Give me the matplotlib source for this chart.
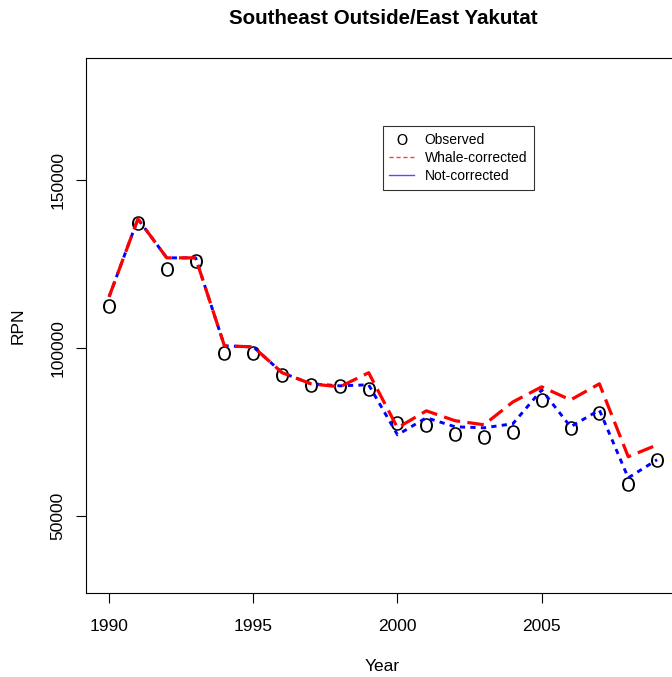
import matplotlib.pyplot as plt
from matplotlib.lines import Line2D

plt.rcParams['font.family'] = ['Liberation Sans', 'DejaVu Sans']

years = list(range(1990, 2010))
observed = [112500, 137200, 123500, 125900, 98500, 98500, 92000, 89000, 88700, 87800,
            77700, 77100, 74400, 73500, 75000, 84500, 76200, 80650, 59500, 66700]
whale_corrected = [115200, 138400, 126800, 126800, 100600, 100300, 92600, 89300, 88400, 92600,
                   76200, 81250, 78300, 77100, 83900, 88400, 84500, 89300, 67600, 71100]
not_corrected = [115200, 138400, 126800, 126800, 100600, 100300, 92600, 89300, 88700, 89000,
                 74100, 79200, 76500, 76200, 77400, 87500, 76500, 81500, 61300, 66700]

fig = plt.figure(figsize=(6.72, 6.77), dpi=100)
ax = fig.add_axes([0.128, 0.124, 0.8824, 0.7903])

ax.plot(years, observed, linestyle='none', marker=r'$\mathsf{O}$', markersize=10.5,
        color='black', markeredgewidth=0)
ax.plot(years, not_corrected, color='blue', linestyle=(0, (1.8, 1.8)), linewidth=2.1)
ax.plot(years, whale_corrected, color='red', linestyle=(0, (5.2, 2.3)), linewidth=2.3)

ax.set_xlim(1989.2, 2009.76)
ax.set_ylim(27000, 186300)
ax.set_xticks([1990, 1995, 2000, 2005])
ax.set_yticks([50000, 100000, 150000])
ax.set_yticklabels(['50000', '100000', '150000'], rotation=90, va='center')
ax.tick_params(labelsize=12.5, length=7)
ax.tick_params(axis='x', pad=12)
ax.tick_params(axis='y', pad=8)
for s in ax.spines.values():
    s.set_linewidth(0.8)

ax.set_xlabel('Year', fontsize=12.5, labelpad=18)
ax.set_ylabel('RPN', fontsize=12.5, labelpad=18)
fig.text(0.57, 0.972, 'Southeast Outside/East Yakutat', ha='center', va='center',
         fontsize=14.8, fontweight='bold')

handles = [
    Line2D([], [], linestyle='none', marker=r'$\mathsf{O}$', markersize=8, color='black',
           markeredgewidth=0),
    Line2D([], [], color='#ff4040', linestyle=(0, (3, 2)), linewidth=1),
    Line2D([], [], color='#5050ff', linewidth=1),
]
leg = ax.legend(handles, ['Observed', 'Whale-corrected', 'Not-corrected'],
                loc='upper left', bbox_to_anchor=(0.5, 0.873), fontsize=10,
                frameon=True, fancybox=False, edgecolor='black', borderpad=0.5,
                handlelength=1.8, handletextpad=0.75, labelspacing=0.3,
                borderaxespad=0)
leg.get_frame().set_linewidth(0.8)

fig.savefig('out.png', dpi=100)
